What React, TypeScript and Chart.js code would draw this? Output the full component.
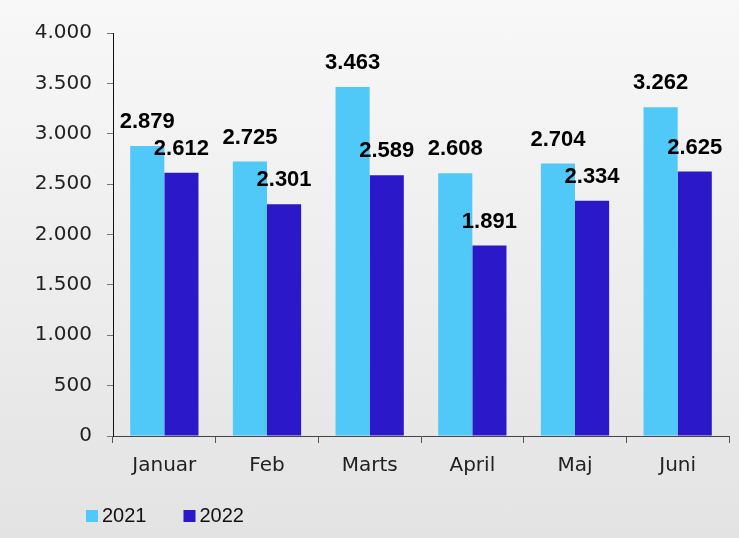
import React, { useEffect, useRef } from "react";
import { Chart, registerables } from "chart.js";

Chart.register(...registerables);

const categories = ["Januar", "Feb", "Marts", "April", "Maj", "Juni"];
const series2021 = [2879, 2725, 3463, 2608, 2704, 3262];
const series2022 = [2612, 2301, 2589, 1891, 2334, 2625];
const seriesNames = ["2021", "2022"];
const yMin = 0;
const yMax = 4000;
const yStep = 500;

const fmt = (v: number) =>
  String(Math.round(v)).replace(/\B(?=(\d{3})+(?!\d))/g, ".");

const legendPlugin = {
  id: "customLegend",
  afterDraw(chart: any) {
    const ctx = chart.ctx;
    ctx.save();
    ctx.font = '20px "Liberation Sans"';
    ctx.textBaseline = "middle";
    ctx.textAlign = "left";
    let x = 86;
    const y = 516;
    chart.data.datasets.forEach((ds: any) => {
      ctx.fillStyle = ds.backgroundColor;
      ctx.fillRect(x, y - 6, 12, 12);
      ctx.fillStyle = "#111";
      ctx.fillText(ds.label, x + 16, y);
      x += 16 + ctx.measureText(ds.label).width + 37;
    });
    ctx.restore();
  },
};

const valueLabelPlugin = {
  id: "valueLabels",
  afterDatasetsDraw(chart: any) {
    const ctx = chart.ctx;
    ctx.save();
    ctx.font = 'bold 22px "Liberation Sans"';
    ctx.textBaseline = "middle";
    ctx.textAlign = "center";
    ctx.fillStyle = "#000";
    chart.data.datasets.forEach((ds: any, i: number) => {
      const meta = chart.getDatasetMeta(i);
      meta.data.forEach((el: any, j: number) => {
        ctx.fillText(fmt(ds.data[j]), el.x, el.y - 24);
      });
    });
    ctx.restore();
  },
};

export default function App() {
  const ref = useRef<HTMLCanvasElement | null>(null);

  useEffect(() => {
    if (!ref.current) return;
    const chart = new Chart(ref.current, {
      type: "bar",
      data: {
        labels: categories,
        datasets: [
          {
            label: seriesNames[0],
            data: series2021,
            backgroundColor: "#50C8F8",
            categoryPercentage: 0.665,
            barPercentage: 1,
          },
          {
            label: seriesNames[1],
            data: series2022,
            backgroundColor: "#2B19C9",
            categoryPercentage: 0.665,
            barPercentage: 1,
          },
        ],
      },
      options: {
        responsive: false,
        animation: false,
        devicePixelRatio: 1,
        layout: { padding: { top: 33, right: 10, bottom: 42, left: 0 } },
        plugins: {
          legend: { display: false },
          tooltip: { enabled: false },
        },
        scales: {
          x: {
            offset: true,
            grid: {
              offset: true,
              drawOnChartArea: false,
              drawTicks: true,
              tickLength: 7,
              color: "#555",
            },
            border: { color: "#444", width: 1 },
            ticks: {
              color: "#222",
              font: { family: '"DejaVu Sans"', size: 20 },
              padding: 11,
              maxRotation: 0,
            },
            afterFit: (scale: any) => {
              scale.height = 60;
            },
          },
          y: {
            min: yMin,
            max: yMax,
            grid: {
              drawOnChartArea: false,
              drawTicks: true,
              tickLength: 6,
              color: "#777",
            },
            border: { color: "#111", width: 1 },
            ticks: {
              stepSize: yStep,
              color: "#222",
              font: { family: '"DejaVu Sans"', size: 20 },
              padding: 15,
              callback: (v: any) => fmt(Number(v)),
            },
            afterFit: (scale: any) => {
              scale.width = 113;
            },
          },
        },
      },
      plugins: [legendPlugin, valueLabelPlugin],
    });
    return () => chart.destroy();
  }, []);

  return (
    <div
      style={{
        position: "fixed",
        left: 0,
        top: 0,
        width: 739,
        height: 538,
        background: "linear-gradient(#f8f8f8, #e3e3e3)",
      }}
    >
      <canvas
        ref={ref}
        width={739}
        height={538}
        style={{ width: 739, height: 538, display: "block" }}
      />
    </div>
  );
}
